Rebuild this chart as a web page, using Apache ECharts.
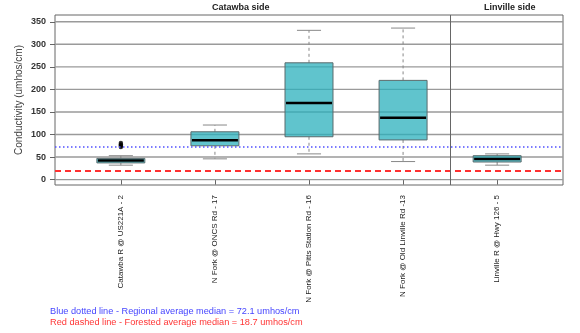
<!DOCTYPE html>
<html>
<head>
<meta charset="utf-8">
<script src="https://cdn.jsdelivr.net/npm/echarts@6/dist/echarts.min.js"></script>
<style>html,body{margin:0;padding:0;background:#fff}#c{width:580px;height:333px}</style>
</head>
<body>
<div id="c"></div>
<script>
// ---- data ----
const categories = ["Catawba R @ US221A - 2", "N Fork @ ONCS Rd - 17", "N Fork @ Pitts Station Rd - 16", "N Fork @ Old Linville Rd -13", "Linville R @ Hwy 126 - 5"];
// [whiskerLow, Q1, median, Q3, whiskerHigh]
const boxStats = [
  [32, 37, 42.5, 47, 53],
  [46, 75, 87, 106, 121],
  [57, 95, 170, 259, 331],
  [40, 88, 137, 220, 336],
  [32, 39, 45.5, 53, 57]
];
// outliers: [categoryIndex, value]
const outliers = [[0, 81], [0, 78], [0, 75], [0, 72]];
const yTicks = [0, 50, 100, 150, 200, 250, 300, 350];
const regionalMedian = 72.1;
const forestedMedian = 18.7;
const sectionDivider = 4.5;
const sectionTitles = ["Catawba side", "Linville side"];
const noteBlue = "Blue dotted line - Regional average median = 72.1 umhos/cm";
const noteRed = "Red dashed line - Forested average median = 18.7 umhos/cm";

const positions = categories.map((_, i) => i + 1);
const FONT = 'Liberation Sans, Arial, sans-serif';

const chart = echarts.init(document.getElementById('c'), null, {renderer: 'canvas'});

const boxData = boxStats.map((s, i) => [positions[i]].concat(s));

function renderBox(params, api) {
  const x = api.value(0);
  const lo = api.value(1), q1 = api.value(2), med = api.value(3), q3 = api.value(4), hi = api.value(5);
  const half = 0.255, capHalf = 0.128;
  const pL = api.coord([x - half, q3]);
  const pR = api.coord([x + half, q1]);
  const pC = api.coord([x, 0]);
  const yLo = api.coord([x, lo])[1], yQ1 = api.coord([x, q1])[1], yMed = api.coord([x, med])[1];
  const yQ3 = api.coord([x, q3])[1], yHi = api.coord([x, hi])[1];
  const cL = api.coord([x - capHalf, 0])[0], cR = api.coord([x + capHalf, 0])[0];
  const wStyle = {stroke: '#888', lineWidth: 1, lineDash: [3, 3]};
  const cStyle = {stroke: '#888', lineWidth: 1};
  return {
    type: 'group',
    children: [
      {type: 'line', shape: {x1: pC[0], y1: yQ3, x2: pC[0], y2: yHi}, style: wStyle},
      {type: 'line', shape: {x1: pC[0], y1: yQ1, x2: pC[0], y2: yLo}, style: wStyle},
      {type: 'line', shape: {x1: cL, y1: yHi, x2: cR, y2: yHi}, style: cStyle},
      {type: 'line', shape: {x1: cL, y1: yLo, x2: cR, y2: yLo}, style: cStyle},
      {type: 'rect', shape: {x: pL[0], y: yQ3, width: pR[0] - pL[0], height: yQ1 - yQ3},
        style: {fill: 'rgba(40,176,188,0.74)', stroke: '#5a6a6c', lineWidth: 1}},
      {type: 'line', shape: {x1: pL[0] + 1, y1: yMed, x2: pR[0] - 1, y2: yMed}, style: {stroke: '#000', lineWidth: 2.5}}
    ]
  };
}

function renderGrid(params, api) {
  const v = api.value(0);
  const a = api.coord([0.3, v]), b = api.coord([5.7, v]);
  return {type: 'line', shape: {x1: a[0], y1: a[1], x2: b[0], y2: b[1]}, style: {stroke: '#9a9a9a', lineWidth: 1.4}};
}

chart.setOption({
  animation: false,
  backgroundColor: '#fff',
  grid: {left: 55, right: 17, top: 15, bottom: 148, show: true, borderColor: '#666', borderWidth: 1, backgroundColor: 'transparent'},
  xAxis: {
    type: 'value', min: 0.3, max: 5.7,
    axisLine: {show: false},
    splitLine: {show: false},
    axisTick: {show: true, customValues: positions, length: 5, lineStyle: {color: '#666'}},
    axisLabel: {
      customValues: positions, rotate: 90, margin: 10,
      fontSize: 8, fontFamily: FONT, color: '#222',
      formatter: v => categories[Math.round(v) - 1] || ''
    }
  },
  yAxis: {
    type: 'value', min: -12, max: 365,
    name: 'Conductivity (umhos/cm)', nameLocation: 'middle', nameGap: 31, nameRotate: 90,
    nameMoveOverlap: false,
    nameTextStyle: {fontSize: 10, fontFamily: FONT, color: '#444'},
    axisLine: {show: false},
    splitLine: {show: false},
    axisTick: {show: true, customValues: yTicks, length: 5, lineStyle: {color: '#666'}},
    axisLabel: {customValues: yTicks, margin: 9, fontSize: 9, fontFamily: FONT, color: '#333', fontWeight: 'bold'}
  },
  graphic: [
    {type: 'text', left: 242 - 30, top: 3, style: {text: sectionTitles[0], fontSize: 9, fontWeight: 'bold', fontFamily: FONT, fill: '#222'}},
    {type: 'text', left: 512 - 28, top: 3, style: {text: sectionTitles[1], fontSize: 9, fontWeight: 'bold', fontFamily: FONT, fill: '#222'}},
    {type: 'text', left: 50, top: 307, style: {text: noteBlue, fontSize: 9.2, fontFamily: FONT, fill: '#4545ff'}},
    {type: 'text', left: 50, top: 318, style: {text: noteRed, fontSize: 9.2, fontFamily: FONT, fill: '#ff3535'}}
  ],
  series: [
    {
      type: 'custom', z: 1, renderItem: renderGrid, data: yTicks.map(v => [v]),
      encode: {y: 0}, silent: true
    },
    {
      type: 'custom', z: 2, renderItem: renderBox, data: boxData,
      encode: {x: 0, y: [1, 2, 3, 4, 5]}, silent: true
    },
    {
      type: 'scatter', z: 3, data: outliers.map(o => [positions[o[0]], o[1]]),
      symbolSize: 4.5, itemStyle: {color: '#000'}, silent: true,
      markLine: {
        silent: true, symbol: 'none', label: {show: false},
        data: [
          {yAxis: regionalMedian, lineStyle: {color: '#5050ff', type: [1.5, 2.5], width: 1.5}},
          {yAxis: forestedMedian, lineStyle: {color: '#ff3030', type: [6, 4], width: 2}},
          {xAxis: sectionDivider, lineStyle: {color: '#666', type: 'solid', width: 1}}
        ]
      }
    }
  ]
});
</script>
</body>
</html>
